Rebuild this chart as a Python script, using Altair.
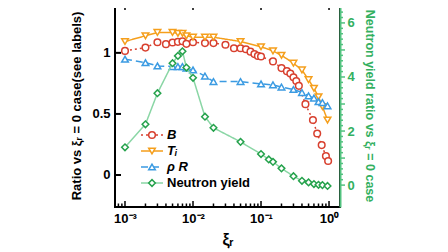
import altair as alt
import pandas as pd

# ---------------- data ----------------
xi_B = [1e-3, 2e-3, 3e-3, 4e-3, 5e-3, 6e-3, 7e-3, 8e-3, 1e-2, 1.5e-2, 2e-2, 3e-2,
        4e-2, 5e-2, 6e-2, 7e-2, 8e-2, 9e-2, 0.1, 0.15, 0.2, 0.24, 0.27, 0.3, 0.33,
        0.36, 0.45, 0.58, 0.67, 0.78, 0.9, 0.97]
B = [1.016, 1.043, 1.087, 1.071, 1.085, 1.09, 1.095, 1.074, 1.087, 1.08, 1.08, 1.066,
     1.038, 1.038, 1.03, 1.01, 0.99, 0.975, 0.97, 0.93, 0.875, 0.85, 0.83, 0.80, 0.77,
     0.73, 0.58, 0.45, 0.34, 0.245, 0.155, 0.115]

xi_T = [1e-3, 2e-3, 3e-3, 5e-3, 6e-3, 7e-3, 8e-3, 1e-2, 1.5e-2, 2e-2, 5e-2, 0.1,
        0.15, 0.2, 0.3, 0.4, 0.5, 0.6, 0.7, 0.8, 0.95]
Ti = [1.093, 1.14, 1.167, 1.167, 1.16, 1.16, 1.14, 1.128, 1.128, 1.128, 1.093, 1.05,
      1.016, 0.98, 0.915, 0.86, 0.78, 0.71, 0.64, 0.56, 0.45]

xi_R = [1e-3, 2e-3, 3e-3, 5e-3, 6e-3, 7e-3, 8e-3, 1e-2, 1.5e-2, 2e-2, 5e-2, 0.1,
        0.15, 0.2, 0.3, 0.4, 0.5, 0.6, 0.7, 0.8, 0.95]
rhoR = [0.948, 0.92, 0.893, 0.888, 0.888, 0.888, 0.874, 0.86, 0.81, 0.765, 0.765, 0.746,
        0.738, 0.72, 0.70, 0.675, 0.648, 0.63, 0.60, 0.593, 0.566]

xi_N = [1e-3, 2e-3, 3e-3, 5e-3, 6e-3, 7e-3, 8e-3, 1e-2, 1.5e-2, 2e-2, 5e-2, 0.1,
        0.13, 0.15, 0.2, 0.3, 0.4, 0.5, 0.6, 0.7, 0.8, 0.95]
NY = [1.40, 2.25, 3.40, 4.51, 4.78, 4.95, 4.35, 3.97, 2.53, 2.12, 1.60, 1.15,
      0.95, 0.86, 0.62, 0.33, 0.16, 0.10, 0.04, 0.01, 0.0, -0.03]

series = ["B", "Ti", "rhoR", "NY"]
legend_labels = ["B", "Tᵢ", "ρ R", "Neutron yield"]

x_major = [1e-3, 1e-2, 1e-1, 1.0]
x_labels = ["10⁻³", "10⁻²", "10⁻¹", "10⁰"]
left_vals = [0, 0.5, 1]
left_labels = ["0", "0.5", "1"]
right_major = [0, 1, 2, 3, 4, 5, 6]
right_minor = [round(0.2 * k, 1) for k in range(0, 34) if k % 5 != 0]

# ---------------- styles ----------------
FONT = "Liberation Sans"
marker_colors = ["#d8402f", "#f59f1c", "#3b9be2", "#25a24c"]
line_colors = ["#d8402f", "#f59f1c", "#3b9be2", "#8ad6a5"]
dashes = [[2, 3], [1, 0], [7, 4], [1, 0]]
shapes = ["circle", "triangle-down", "triangle-up", "diamond"]
GREEN_AX = "#52c27f"
GREEN_TXT = "#33b060"

x_dom = [0.000713, 1.45]
yl_dom = [-0.262, 1.40]
yr_dom = [-0.81, 6.7]
W, H = 225, 203

left_df = pd.concat([
    pd.DataFrame({"xi": xi_B, "v": B, "s": "B"}),
    pd.DataFrame({"xi": xi_T, "v": Ti, "s": "Ti"}),
    pd.DataFrame({"xi": xi_R, "v": rhoR, "s": "rhoR"}),
], ignore_index=True)
ny_df = pd.DataFrame({"xi": xi_N, "n": NY, "s": "NY"})

stroke_enc = alt.Stroke("s:N", scale=alt.Scale(domain=series, range=line_colors), legend=None)
color_enc = alt.Color("s:N", scale=alt.Scale(domain=series, range=marker_colors), legend=None)
dash_enc = alt.StrokeDash("s:N", scale=alt.Scale(domain=series, range=dashes), legend=None)
shape_enc = alt.Shape("s:N", scale=alt.Scale(domain=series, range=shapes), legend=None)


def chain_expr(vals, labs):
    e = f"'{labs[-1]}'"
    for v, l in reversed(list(zip(vals[:-1], labs[:-1]))):
        e = f"datum.value <= {v} * 1.001 ? '{l}' : ({e})"
    return e


x_enc = alt.X(
    "xi:Q",
    scale=alt.Scale(type="log", domain=x_dom, nice=False),
    axis=alt.Axis(values=x_major, labelExpr=chain_expr(x_major, x_labels), ticks=False,
                  domain=False, grid=False, labelOverlap=False,
                  labelFont=FONT, labelFontSize=13, labelFontWeight="bold", labelColor="black",
                  labelPadding=5, title="ξᵣ", titleFont=FONT, titleFontSize=16,
                  titleFontWeight="bold", titleColor="black", titlePadding=6, labelFlush=False),
)
y_left = alt.Y(
    "v:Q",
    scale=alt.Scale(domain=yl_dom, nice=False, zero=False),
    axis=alt.Axis(orient="left", values=left_vals, labelExpr=chain_expr(left_vals, left_labels),
                  ticks=False, domain=False, grid=False, labelOverlap=False,
                  labelFont=FONT, labelFontSize=13, labelFontWeight="bold", labelColor="black",
                  labelPadding=5, title="Ratio vs ξᵣ = 0 case(see labels)", titleFont=FONT,
                  titleFontSize=13, titleFontWeight="bold", titleColor="black", titlePadding=8),
)

base_l = alt.Chart(left_df)
lines_l = base_l.mark_line(strokeWidth=1.5).encode(x=x_enc, y=y_left, stroke=stroke_enc,
                                                   strokeDash=dash_enc, detail="s:N")
pts_l = base_l.mark_point(fill="white", filled=False, strokeWidth=1.5, size=44, opacity=1).encode(
    x="xi:Q", y="v:Q", color=color_enc, shape=shape_enc)

# inward ticks (left axis, bottom and top)
ltick_df = pd.DataFrame({"v": left_vals})
lticks = alt.Chart(ltick_df).mark_rule(color="black", strokeWidth=2).encode(
    y="v:Q", x=alt.value(0), x2=alt.value(6))

minor = []
for dec in [1e-4, 1e-3, 1e-2, 1e-1, 1.0]:
    for m in range(2, 10):
        val = m * dec
        if x_dom[0] <= val <= x_dom[1]:
            minor.append(val)
maj_df = pd.DataFrame({"xi": x_major})
min_df = pd.DataFrame({"xi": minor})
xt = []
for df_, ln in [(maj_df, 6), (min_df, 3.5)]:
    xt.append(alt.Chart(df_).mark_rule(color="black", strokeWidth=1.5).encode(
        x="xi:Q", y=alt.value(H), y2=alt.value(H - ln)))
    xt.append(alt.Chart(df_).mark_rule(color="black", strokeWidth=1.5).encode(
        x="xi:Q", y=alt.value(0), y2=alt.value(ln)))

left_layer = alt.layer(lines_l, pts_l, lticks, *xt)

y_right = alt.Y(
    "n:Q",
    scale=alt.Scale(domain=yr_dom, nice=False, zero=False),
    axis=alt.Axis(orient="right", values=right_major, grid=False, ticks=False, labelOverlap=False,
                  domainColor=GREEN_AX, domainWidth=2,
                  labelFont=FONT, labelFontSize=13, labelFontWeight="bold", labelColor=GREEN_TXT,
                  labelPadding=7, title="Neutron yield ratio vs ξᵣ = 0 case", titleFont=FONT,
                  titleFontSize=12.5, titleFontWeight="bold", titleColor=GREEN_TXT,
                  titlePadding=8),
)
base_n = alt.Chart(ny_df)
line_n = base_n.mark_line(strokeWidth=1.5).encode(x="xi:Q", y=y_right, stroke=stroke_enc,
                                                  strokeDash=dash_enc)
pts_n = base_n.mark_point(fill="white", filled=False, strokeWidth=1.5, size=44, opacity=1).encode(
    x="xi:Q", y="n:Q", color=color_enc, shape=shape_enc)

rt_major = alt.Chart(pd.DataFrame({"n": right_major})).mark_rule(
    color=GREEN_AX, strokeWidth=1.5).encode(y="n:Q", x=alt.value(W), x2=alt.value(W + 5))
rt_minor = alt.Chart(pd.DataFrame({"n": right_minor})).mark_rule(
    color=GREEN_AX, strokeWidth=1.5).encode(y="n:Q", x=alt.value(W), x2=alt.value(W + 3))
right_layer = alt.layer(line_n, pts_n, rt_major, rt_minor)

# manual legend
leg_df = pd.DataFrame({"s": series, "lab": legend_labels, "row": list(range(len(series)))})
leg_y = alt.Y("row:Q", scale=alt.Scale(domain=[0, 3], range=[131, 179]), axis=None)
leg_base = alt.Chart(leg_df)
leg_line = leg_base.mark_rule(strokeWidth=1.5).encode(
    y=leg_y, x=alt.value(26), x2=alt.value(48), stroke=stroke_enc, strokeDash=dash_enc)
leg_pt = leg_base.mark_point(fill="white", filled=False, strokeWidth=1.5, size=44, opacity=1).encode(
    y="row:Q", x=alt.value(37), color=color_enc, shape=shape_enc)
leg_txt_i = leg_base.transform_filter("datum.row < 3").mark_text(
    align="left", baseline="middle", font=FONT, fontSize=13, fontWeight="bold",
    fontStyle="italic", color="black").encode(y="row:Q", x=alt.value(52), text="lab:N")
leg_txt_n = leg_base.transform_filter("datum.row >= 3").mark_text(
    align="left", baseline="middle", font=FONT, fontSize=13, fontWeight="bold",
    color="black").encode(y="row:Q", x=alt.value(52), text="lab:N")
legend_layer = alt.layer(leg_line, leg_pt, leg_txt_i, leg_txt_n)

chart = alt.layer(left_layer, right_layer, legend_layer).resolve_scale(y="independent").properties(
    width=W, height=H,
    padding={"left": 107, "top": -4, "right": 100, "bottom": 45},
    autosize=alt.AutoSizeParams(type="none"),
    background="white",
).configure_view(stroke="black", strokeWidth=2)

chart.save("out.html", embed_options={"renderer": "svg", "actions": False})
